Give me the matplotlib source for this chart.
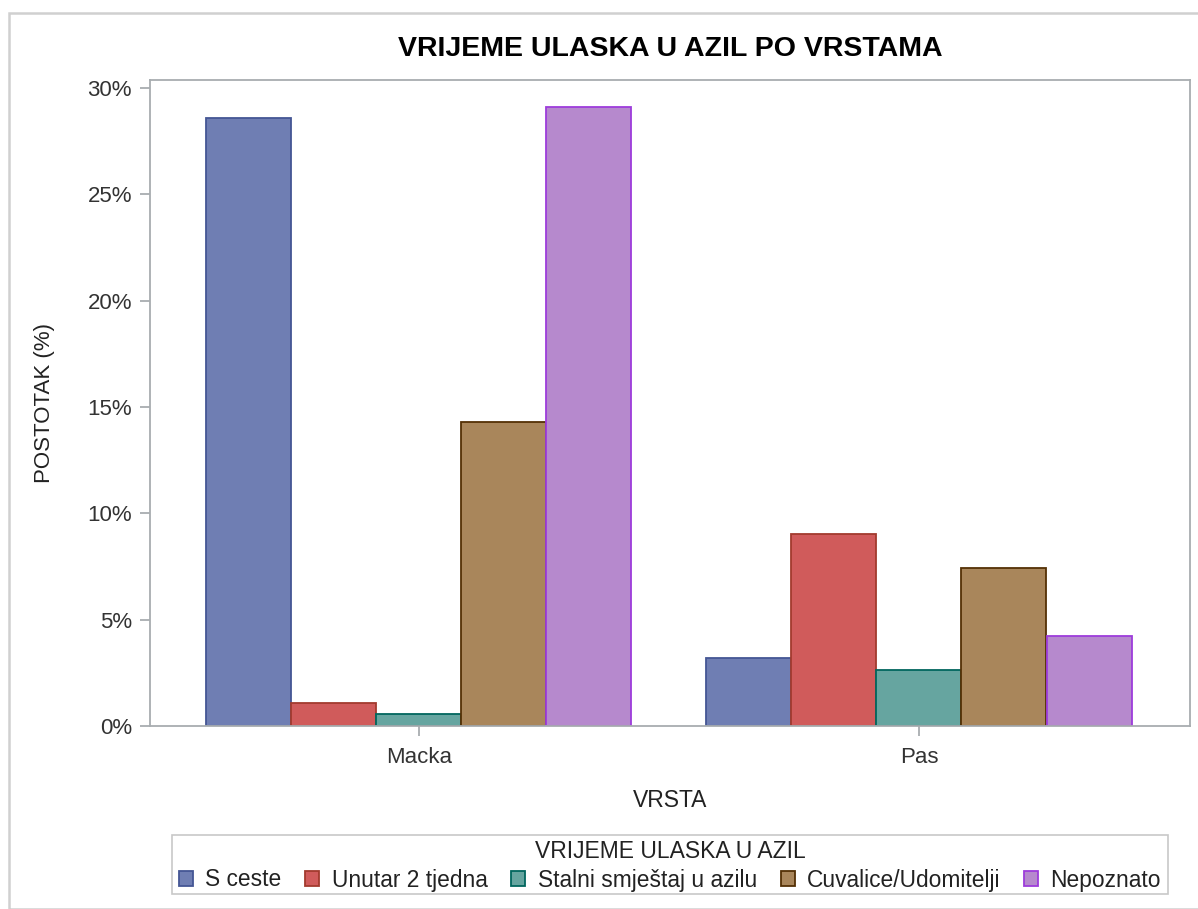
import numpy as np
import matplotlib
matplotlib.use("Agg")
import matplotlib.pyplot as plt
from matplotlib.patches import Rectangle

plt.rcParams['font.family'] = ['Liberation Sans', 'DejaVu Sans']

# podaci (postotak od ukupnog broja)
vrste = ["Macka", "Pas"]
kategorije = ["S ceste", "Unutar 2 tjedna", "Stalni smještaj u azilu",
              "Cuvalice/Udomitelji", "Nepoznato"]
s_ceste = [28.57, 3.18]
unutar_2_tjedna = [1.07, 9.03]
stalni_smjestaj = [0.55, 2.63]
cuvalice = [14.29, 7.41]
nepoznato = [29.10, 4.23]

boje = ["#6F7EB3", "#D05B5B", "#66A5A0", "#A9865B", "#B689CD"]
rubovi = ["#445694", "#A23A2E", "#01665E", "#543005", "#9D3CDB"]

serije = [s_ceste, unutar_2_tjedna, stalni_smjestaj, cuvalice, nepoznato]

W, H = 1198, 909
fig = plt.figure(figsize=(W / 100, H / 100), dpi=100)
ax = fig.add_axes([150 / W, 1 - 726 / H, 1040 / W, 646 / H])

x = np.arange(len(vrste))
sirina = 0.17
for i, (vrijednosti, naziv) in enumerate(zip(serije, kategorije)):
    pomak = (i - 2) * sirina
    ax.bar(x + pomak, vrijednosti, width=sirina, color=boje[i],
           edgecolor=rubovi[i], linewidth=1.3, label=naziv, zorder=2)

ax.set_xlim(-0.538, 1.542)
ax.set_ylim(0, 30.376)
ax.set_yticks([0, 5, 10, 15, 20, 25, 30])
ax.set_yticklabels([f"{v}%" for v in [0, 5, 10, 15, 20, 25, 30]])
ax.set_xticks(x)
ax.set_xticklabels(vrste)

siva = "#A8ADB0"
for s in ax.spines.values():
    s.set_color(siva)
    s.set_linewidth(1.3)
ax.tick_params(axis='both', colors=siva, labelcolor="#333333",
               labelsize=16, length=7, width=1.3)
ax.tick_params(axis='y', pad=6)
ax.tick_params(axis='x', pad=8)

ax.set_ylabel("POSTOTAK (%)", fontsize=16, color="#222222")
ax.yaxis.set_label_coords(-0.091, 0.5)
ax.set_xlabel("VRSTA", fontsize=16.5, color="#222222")
ax.xaxis.set_label_coords(0.5, -0.097)

fig.text(670 / W, 1 - 49 / H, "VRIJEME ULASKA U AZIL PO VRSTAMA",
         ha='center', va='center', fontsize=20.5, fontweight='bold')

# legenda: okvir i naslov posebno, stavke bez okvira
fig.patches.append(Rectangle((172 / W, 1 - 894 / H), 996 / W, 59 / H,
                             transform=fig.transFigure, fill=False,
                             edgecolor="#C8C8C8", linewidth=1.2))
fig.text(670 / W, 1 - 851 / H, "VRIJEME ULASKA U AZIL", ha='center',
         va='center', fontsize=16.5, color="#222222")
leg = fig.legend(loc='center', bbox_to_anchor=(670 / W, 1 - 880 / H),
                 ncol=5, fontsize=16.4, handlelength=0.62, handleheight=0.62,
                 handletextpad=0.53, columnspacing=1.05, borderpad=0,
                 frameon=False, borderaxespad=0)
for t in leg.get_texts():
    t.set_color("#222222")

# vanjski okvir
fig.patches.append(Rectangle((9 / W, 0), 1.2, 1 - 13 / H,
                             transform=fig.transFigure, fill=False,
                             edgecolor="#D0D0D0", linewidth=1.8))

plt.savefig("out.png", dpi=100)
plt.close()
